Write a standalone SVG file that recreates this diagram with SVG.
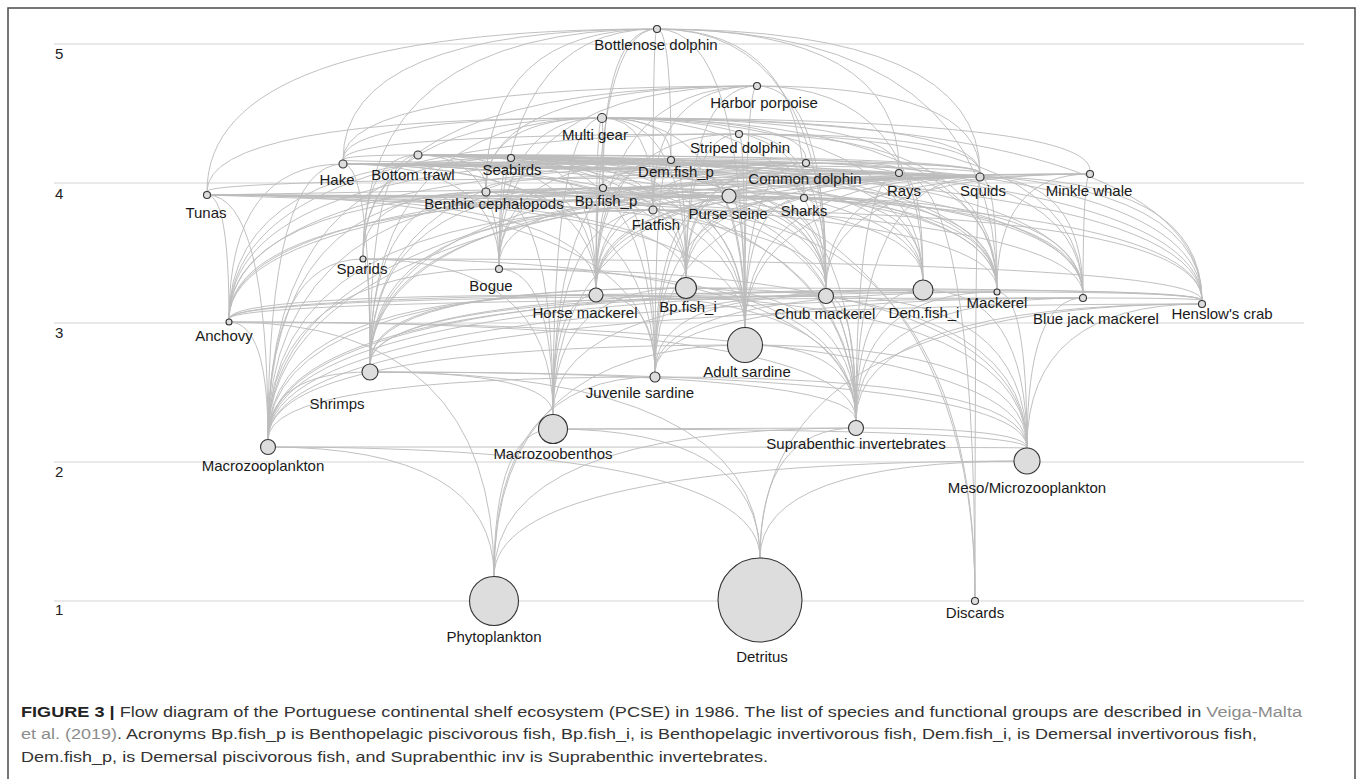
<svg xmlns="http://www.w3.org/2000/svg" width="1357" height="779" viewBox="0 0 1357 779">
<style>
.g{stroke:#e2e2e2;stroke-width:1.6}
.ax{font-family:"Liberation Sans",Arial,sans-serif;font-size:15px;fill:#222}
.e path{fill:none;stroke:#bdbdbd;stroke-width:0.95}
.n{fill:#dddddd;stroke:#333;stroke-width:1.1}
.t{font-family:"Liberation Sans",Arial,sans-serif;font-size:15px;fill:#1a1a1a;text-anchor:middle}
.cap{font-family:"Liberation Sans",Arial,sans-serif;font-size:15.5px;fill:#333}
.lk{fill:#8c8c8c}
</style>
<rect x="0" y="0" width="1357" height="779" fill="#fff"/>
<rect x="8" y="8" width="1347" height="790" fill="none" stroke="#4a4a4a" stroke-width="1.5"/>
<g id="grid">
<line class="g" x1="54" y1="44" x2="1304" y2="44"/>
<line class="g" x1="54" y1="183" x2="1304" y2="183"/>
<line class="g" x1="54" y1="323" x2="1304" y2="323"/>
<line class="g" x1="54" y1="462" x2="1304" y2="462"/>
<line class="g" x1="54" y1="601" x2="1304" y2="601"/>
<text class="ax" x="55" y="59">5</text>
<text class="ax" x="55" y="199">4</text>
<text class="ax" x="55" y="338">3</text>
<text class="ax" x="55" y="477">2</text>
<text class="ax" x="55" y="615">1</text>
</g>
<g id="connectors" class="e">
<path d="M494,576.5Q494,461 1027,461"/>
<path d="M760,558Q760,461 1027,461"/>
<path d="M494,576.5Q494,447 268,447"/>
<path d="M1027,448Q1027,447 268,447"/>
<path d="M760,558Q760,447 268,447"/>
<path d="M494,576.5Q494,428 856,428"/>
<path d="M760,558Q760,428 856,428"/>
<path d="M1027,448Q1027,428 856,428"/>
<path d="M494,576.5Q494,429 553,429"/>
<path d="M760,558Q760,429 553,429"/>
<path d="M1027,448Q1027,429 553,429"/>
<path d="M553,429L856,428"/>
<path d="M1027,448Q1027,372 370,372"/>
<path d="M268,439.5Q268,372 370,372"/>
<path d="M856,420.5Q856,372 370,372"/>
<path d="M553,414.5Q553,372 370,372"/>
<path d="M760,558Q760,372 370,372"/>
<path d="M494,576.5Q494,377 655,377"/>
<path d="M1027,448Q1027,377 655,377"/>
<path d="M268,439.5Q268,377 655,377"/>
<path d="M494,576.5Q494,345 745,345"/>
<path d="M1027,448Q1027,345 745,345"/>
<path d="M268,439.5Q268,345 745,345"/>
<path d="M856,420.5Q856,345 745,345"/>
<path d="M1027,448Q1027,322 229,322"/>
<path d="M268,439.5Q268,322 229,322"/>
<path d="M856,420.5Q856,322 229,322"/>
<path d="M494,576.5Q494,322 229,322"/>
<path d="M1027,448Q1027,304 1202,304"/>
<path d="M268,439.5Q268,304 1202,304"/>
<path d="M856,420.5Q856,304 1202,304"/>
<path d="M760,558Q760,304 1202,304"/>
<path d="M1027,448Q1027,295 596,295"/>
<path d="M268,439.5Q268,295 596,295"/>
<path d="M856,420.5Q856,295 596,295"/>
<path d="M370,364Q370,295 596,295"/>
<path d="M655,372Q655,295 596,295"/>
<path d="M229,319Q229,295 596,295"/>
<path d="M553,414.5Q553,295 596,295"/>
<path d="M1027,448Q1027,296 826,296"/>
<path d="M268,439.5Q268,296 826,296"/>
<path d="M856,420.5Q856,296 826,296"/>
<path d="M655,372Q655,296 826,296"/>
<path d="M229,319Q229,296 826,296"/>
<path d="M370,364Q370,296 826,296"/>
<path d="M1027,448Q1027,292 997,292"/>
<path d="M268,439.5Q268,292 997,292"/>
<path d="M856,420.5Q856,292 997,292"/>
<path d="M655,372Q655,292 997,292"/>
<path d="M229,319Q229,292 997,292"/>
<path d="M1202,300.5Q1202,292 997,292"/>
<path d="M1027,448Q1027,298 1083,298"/>
<path d="M268,439.5Q268,298 1083,298"/>
<path d="M856,420.5Q856,298 1083,298"/>
<path d="M655,372Q655,298 1083,298"/>
<path d="M229,319Q229,298 1083,298"/>
<path d="M1202,300.5Q1202,298 1083,298"/>
<path d="M1027,448Q1027,288 686,288"/>
<path d="M268,439.5Q268,288 686,288"/>
<path d="M856,420.5Q856,288 686,288"/>
<path d="M553,414.5Q553,288 686,288"/>
<path d="M370,364Q370,288 686,288"/>
<path d="M1202,300.5Q1202,288 686,288"/>
<path d="M553,414.5Q553,290 923,290"/>
<path d="M856,420.5Q856,290 923,290"/>
<path d="M370,364Q370,290 923,290"/>
<path d="M268,439.5Q268,290 923,290"/>
<path d="M1202,300.5Q1202,290 923,290"/>
<path d="M1027,448Q1027,290 923,290"/>
<path d="M1027,448Q1027,269 499,269"/>
<path d="M268,439.5Q268,269 499,269"/>
<path d="M856,420.5Q856,269 499,269"/>
<path d="M553,414.5Q553,269 499,269"/>
<path d="M553,414.5Q553,259 363,259"/>
<path d="M856,420.5Q856,259 363,259"/>
<path d="M370,364Q370,259 363,259"/>
<path d="M268,439.5Q268,259 363,259"/>
<path d="M1202,300.5Q1202,259 363,259"/>
<path d="M553,414.5Q553,210 653,210"/>
<path d="M856,420.5Q856,210 653,210"/>
<path d="M370,364Q370,210 653,210"/>
<path d="M1202,300.5Q1202,210 653,210"/>
<path d="M268,439.5Q268,210 653,210"/>
<path d="M975,597.5Q975,210 653,210"/>
<path d="M596,288Q596,188 603,188"/>
<path d="M655,372Q655,188 603,188"/>
<path d="M745,327.5Q745,188 603,188"/>
<path d="M229,319Q229,188 603,188"/>
<path d="M686,277.5Q686,188 603,188"/>
<path d="M826,288.5Q826,188 603,188"/>
<path d="M997,289Q997,188 603,188"/>
<path d="M1083,294.5Q1083,188 603,188"/>
<path d="M499,265.5Q499,188 603,188"/>
<path d="M268,439.5Q268,188 603,188"/>
<path d="M370,364Q370,188 603,188"/>
<path d="M856,420.5Q856,188 603,188"/>
<path d="M596,288Q596,160 671,160"/>
<path d="M655,372Q655,160 671,160"/>
<path d="M745,327.5Q745,160 671,160"/>
<path d="M229,319Q229,160 671,160"/>
<path d="M686,277.5Q686,160 671,160"/>
<path d="M923,280Q923,160 671,160"/>
<path d="M370,364Q370,160 671,160"/>
<path d="M553,414.5Q553,160 671,160"/>
<path d="M856,420.5Q856,160 671,160"/>
<path d="M1202,300.5Q1202,160 671,160"/>
<path d="M499,265.5Q499,160 671,160"/>
<path d="M653,206Q653,160 671,160"/>
<path d="M553,414.5Q553,192 486,192"/>
<path d="M370,364Q370,192 486,192"/>
<path d="M856,420.5Q856,192 486,192"/>
<path d="M1202,300.5Q1202,192 486,192"/>
<path d="M923,280Q923,192 486,192"/>
<path d="M653,206Q653,192 486,192"/>
<path d="M363,256Q363,192 486,192"/>
<path d="M268,439.5Q268,192 486,192"/>
<path d="M268,439.5Q268,177 980,177"/>
<path d="M856,420.5Q856,177 980,177"/>
<path d="M655,372Q655,177 980,177"/>
<path d="M745,327.5Q745,177 980,177"/>
<path d="M229,319Q229,177 980,177"/>
<path d="M596,288Q596,177 980,177"/>
<path d="M686,277.5Q686,177 980,177"/>
<path d="M826,288.5Q826,177 980,177"/>
<path d="M997,289Q997,177 980,177"/>
<path d="M1083,294.5Q1083,177 980,177"/>
<path d="M370,364Q370,177 980,177"/>
<path d="M1202,300.5Q1202,177 980,177"/>
<path d="M268,439.5Q268,164 343,164"/>
<path d="M856,420.5Q856,164 343,164"/>
<path d="M370,364Q370,164 343,164"/>
<path d="M655,372Q655,164 343,164"/>
<path d="M745,327.5Q745,164 343,164"/>
<path d="M229,319Q229,164 343,164"/>
<path d="M596,288Q596,164 343,164"/>
<path d="M686,277.5Q686,164 343,164"/>
<path d="M826,288.5Q826,164 343,164"/>
<path d="M923,280Q923,164 343,164"/>
<path d="M499,265.5Q499,164 343,164"/>
<path d="M980,173Q980,164 343,164"/>
<path d="M997,289Q997,164 343,164"/>
<path d="M1083,294.5Q1083,164 343,164"/>
<path d="M1202,300.5Q1202,164 343,164"/>
<path d="M553,414.5Q553,173 899,173"/>
<path d="M370,364Q370,173 899,173"/>
<path d="M856,420.5Q856,173 899,173"/>
<path d="M1202,300.5Q1202,173 899,173"/>
<path d="M923,280Q923,173 899,173"/>
<path d="M653,206Q653,173 899,173"/>
<path d="M486,188Q486,173 899,173"/>
<path d="M975,597.5Q975,173 899,173"/>
<path d="M596,288Q596,198 804,198"/>
<path d="M745,327.5Q745,198 804,198"/>
<path d="M655,372Q655,198 804,198"/>
<path d="M686,277.5Q686,198 804,198"/>
<path d="M923,280Q923,198 804,198"/>
<path d="M804,194.5Q804,177 980,177"/>
<path d="M804,194.5Q804,192 486,192"/>
<path d="M804,194.5Q804,164 343,164"/>
<path d="M826,288.5Q826,198 804,198"/>
<path d="M370,364Q370,198 804,198"/>
<path d="M997,289Q997,198 804,198"/>
<path d="M1083,294.5Q1083,198 804,198"/>
<path d="M745,327.5Q745,195 207,195"/>
<path d="M229,319Q229,195 207,195"/>
<path d="M596,288Q596,195 207,195"/>
<path d="M826,288.5Q826,195 207,195"/>
<path d="M997,289Q997,195 207,195"/>
<path d="M1083,294.5Q1083,195 207,195"/>
<path d="M207,191.5Q207,177 980,177"/>
<path d="M686,277.5Q686,195 207,195"/>
<path d="M655,372Q655,195 207,195"/>
<path d="M268,439.5Q268,195 207,195"/>
<path d="M745,327.5Q745,158 511,158"/>
<path d="M655,372Q655,158 511,158"/>
<path d="M229,319Q229,158 511,158"/>
<path d="M596,288Q596,158 511,158"/>
<path d="M826,288.5Q826,158 511,158"/>
<path d="M975,597.5Q975,158 511,158"/>
<path d="M499,265.5Q499,158 511,158"/>
<path d="M980,173Q980,158 511,158"/>
<path d="M268,439.5Q268,158 511,158"/>
<path d="M997,289Q997,158 511,158"/>
<path d="M745,327.5Q745,163 806,163"/>
<path d="M655,372Q655,163 806,163"/>
<path d="M229,319Q229,163 806,163"/>
<path d="M596,288Q596,163 806,163"/>
<path d="M826,288.5Q826,163 806,163"/>
<path d="M997,289Q997,163 806,163"/>
<path d="M1083,294.5Q1083,163 806,163"/>
<path d="M980,173Q980,163 806,163"/>
<path d="M343,160Q343,163 806,163"/>
<path d="M686,277.5Q686,163 806,163"/>
<path d="M603,184.5Q603,163 806,163"/>
<path d="M745,327.5Q745,134 739,134"/>
<path d="M229,319Q229,134 739,134"/>
<path d="M596,288Q596,134 739,134"/>
<path d="M980,173Q980,134 739,134"/>
<path d="M826,288.5Q826,134 739,134"/>
<path d="M997,289Q997,134 739,134"/>
<path d="M1083,294.5Q1083,134 739,134"/>
<path d="M686,277.5Q686,134 739,134"/>
<path d="M343,160Q343,134 739,134"/>
<path d="M745,327.5Q745,86 757,86"/>
<path d="M343,160Q343,86 757,86"/>
<path d="M596,288Q596,86 757,86"/>
<path d="M686,277.5Q686,86 757,86"/>
<path d="M923,280Q923,86 757,86"/>
<path d="M980,173Q980,86 757,86"/>
<path d="M486,188Q486,86 757,86"/>
<path d="M653,206Q653,86 757,86"/>
<path d="M826,288.5Q826,86 757,86"/>
<path d="M363,256Q363,86 757,86"/>
<path d="M499,265.5Q499,86 757,86"/>
<path d="M343,160Q343,29 657,29"/>
<path d="M596,288Q596,29 657,29"/>
<path d="M745,327.5Q745,29 657,29"/>
<path d="M980,173Q980,29 657,29"/>
<path d="M486,188Q486,29 657,29"/>
<path d="M826,288.5Q826,29 657,29"/>
<path d="M997,289Q997,29 657,29"/>
<path d="M671,156.5Q671,29 657,29"/>
<path d="M603,184.5Q603,29 657,29"/>
<path d="M653,206Q653,29 657,29"/>
<path d="M363,256Q363,29 657,29"/>
<path d="M207,191.5Q207,29 657,29"/>
<path d="M804,194.5Q804,29 657,29"/>
<path d="M899,169.5Q899,29 657,29"/>
<path d="M499,265.5Q499,29 657,29"/>
<path d="M745,327.5Q745,174 1090,174"/>
<path d="M229,319Q229,174 1090,174"/>
<path d="M596,288Q596,174 1090,174"/>
<path d="M997,289Q997,174 1090,174"/>
<path d="M826,288.5Q826,174 1090,174"/>
<path d="M1083,294.5Q1083,174 1090,174"/>
<path d="M268,439.5Q268,174 1090,174"/>
<path d="M343,160Q343,118 602,118"/>
<path d="M486,188Q486,118 602,118"/>
<path d="M980,173Q980,118 602,118"/>
<path d="M653,206Q653,118 602,118"/>
<path d="M363,256Q363,118 602,118"/>
<path d="M499,265.5Q499,118 602,118"/>
<path d="M671,156.5Q671,118 602,118"/>
<path d="M923,280Q923,118 602,118"/>
<path d="M603,184.5Q603,118 602,118"/>
<path d="M686,277.5Q686,118 602,118"/>
<path d="M899,169.5Q899,118 602,118"/>
<path d="M804,194.5Q804,118 602,118"/>
<path d="M596,288Q596,118 602,118"/>
<path d="M826,288.5Q826,118 602,118"/>
<path d="M997,289Q997,118 602,118"/>
<path d="M745,327.5Q745,118 602,118"/>
<path d="M207,191.5Q207,118 602,118"/>
<path d="M370,364Q370,118 602,118"/>
<path d="M1202,300.5Q1202,118 602,118"/>
<path d="M553,414.5Q553,118 602,118"/>
<path d="M1090,170.5Q1090,118 602,118"/>
<path d="M806,159.5Q806,118 602,118"/>
<path d="M343,160Q343,155 418,155"/>
<path d="M596,288Q596,155 418,155"/>
<path d="M486,188Q486,155 418,155"/>
<path d="M980,173Q980,155 418,155"/>
<path d="M653,206Q653,155 418,155"/>
<path d="M671,156.5Q671,155 418,155"/>
<path d="M923,280Q923,155 418,155"/>
<path d="M686,277.5Q686,155 418,155"/>
<path d="M603,184.5Q603,155 418,155"/>
<path d="M370,364Q370,155 418,155"/>
<path d="M826,288.5Q826,155 418,155"/>
<path d="M997,289Q997,155 418,155"/>
<path d="M1083,294.5Q1083,155 418,155"/>
<path d="M899,169.5Q899,155 418,155"/>
<path d="M804,194.5Q804,155 418,155"/>
<path d="M1202,300.5Q1202,155 418,155"/>
<path d="M745,327.5Q745,155 418,155"/>
<path d="M499,265.5Q499,155 418,155"/>
<path d="M363,256Q363,155 418,155"/>
<path d="M745,327.5Q745,196 729,196"/>
<path d="M655,372Q655,196 729,196"/>
<path d="M229,319Q229,196 729,196"/>
<path d="M596,288Q596,196 729,196"/>
<path d="M826,288.5Q826,196 729,196"/>
<path d="M997,289Q997,196 729,196"/>
<path d="M1083,294.5Q1083,196 729,196"/>
<path d="M499,265.5Q499,196 729,196"/>
<path d="M207,195L729,196"/>
<path d="M686,277.5Q686,196 729,196"/>
<path d="M975,597.5Q975,177 980,177"/>
<path d="M343,164L980,177"/>
<path d="M343,164L899,173"/>
<path d="M418,155L980,177"/>
<path d="M418,155L899,173"/>
<path d="M343,164L806,163"/>
<path d="M418,155L806,163"/>
<path d="M511,158L980,177"/>
<path d="M511,158L899,173"/>
<path d="M207,195L804,198"/>
<path d="M207,195L653,210"/>
<path d="M207,195L603,188"/>
<path d="M486,192L980,177"/>
<path d="M486,192L729,196"/>
<path d="M603,188L980,177"/>
<path d="M671,160L980,177"/>
<path d="M671,160L343,164"/>
</g>
<g id="node-bottlenose-dolphin"><circle class="n" cx="657" cy="29" r="3.5"/><text class="t" x="656" y="50">Bottlenose dolphin</text></g>
<g id="node-harbor-porpoise"><circle class="n" cx="757" cy="86" r="3.5"/><text class="t" x="764" y="108">Harbor porpoise</text></g>
<g id="node-multi-gear"><circle class="n" cx="602" cy="118" r="4.5"/><text class="t" x="595" y="140">Multi gear</text></g>
<g id="node-striped-dolphin"><circle class="n" cx="739" cy="134" r="3.5"/><text class="t" x="740" y="153">Striped dolphin</text></g>
<g id="node-seabirds"><circle class="n" cx="511" cy="158" r="3.5"/><text class="t" x="512" y="175">Seabirds</text></g>
<g id="node-dem-fish-p"><circle class="n" cx="671" cy="160" r="3.5"/><text class="t" x="676" y="177">Dem.fish_p</text></g>
<g id="node-hake"><circle class="n" cx="343" cy="164" r="4"/><text class="t" x="337" y="185">Hake</text></g>
<g id="node-bottom-trawl"><circle class="n" cx="418" cy="155" r="4"/><text class="t" x="413" y="180">Bottom trawl</text></g>
<g id="node-common-dolphin"><circle class="n" cx="806" cy="163" r="3.5"/><text class="t" x="805" y="184">Common dolphin</text></g>
<g id="node-rays"><circle class="n" cx="899" cy="173" r="3.5"/><text class="t" x="904" y="196">Rays</text></g>
<g id="node-squids"><circle class="n" cx="980" cy="177" r="4"/><text class="t" x="983" y="196">Squids</text></g>
<g id="node-minkle-whale"><circle class="n" cx="1090" cy="174" r="3.5"/><text class="t" x="1089" y="196">Minkle whale</text></g>
<g id="node-tunas"><circle class="n" cx="207" cy="195" r="3.5"/><text class="t" x="206" y="218">Tunas</text></g>
<g id="node-benthic-cephalopods"><circle class="n" cx="486" cy="192" r="4"/><text class="t" x="494" y="209">Benthic cephalopods</text></g>
<g id="node-bp-fish-p"><circle class="n" cx="603" cy="188" r="3.5"/><text class="t" x="606" y="206">Bp.fish_p</text></g>
<g id="node-flatfish"><circle class="n" cx="653" cy="210" r="4"/><text class="t" x="656" y="230">Flatfish</text></g>
<g id="node-purse-seine"><circle class="n" cx="729" cy="196" r="7"/><text class="t" x="728" y="219">Purse seine</text></g>
<g id="node-sharks"><circle class="n" cx="804" cy="198" r="3.5"/><text class="t" x="804" y="216">Sharks</text></g>
<g id="node-sparids"><circle class="n" cx="363" cy="259" r="3"/><text class="t" x="362" y="274">Sparids</text></g>
<g id="node-bogue"><circle class="n" cx="499" cy="269" r="3.5"/><text class="t" x="491" y="291">Bogue</text></g>
<g id="node-anchovy"><circle class="n" cx="229" cy="322" r="3"/><text class="t" x="224" y="341">Anchovy</text></g>
<g id="node-horse-mackerel"><circle class="n" cx="596" cy="295" r="7"/><text class="t" x="585" y="318">Horse mackerel</text></g>
<g id="node-bp-fish-i"><circle class="n" cx="686" cy="288" r="10.5"/><text class="t" x="688" y="312">Bp.fish_i</text></g>
<g id="node-chub-mackerel"><circle class="n" cx="826" cy="296" r="7.5"/><text class="t" x="825" y="319">Chub mackerel</text></g>
<g id="node-dem-fish-i"><circle class="n" cx="923" cy="290" r="10"/><text class="t" x="924" y="318">Dem.fish_i</text></g>
<g id="node-mackerel"><circle class="n" cx="997" cy="292" r="3"/><text class="t" x="997" y="308">Mackerel</text></g>
<g id="node-blue-jack-mackerel"><circle class="n" cx="1083" cy="298" r="3.5"/><text class="t" x="1096" y="324">Blue jack mackerel</text></g>
<g id="node-henslows-crab"><circle class="n" cx="1202" cy="304" r="3.5"/><text class="t" x="1222" y="319">Henslow's crab</text></g>
<g id="node-adult-sardine"><circle class="n" cx="745" cy="345" r="17.5"/><text class="t" x="747" y="377">Adult sardine</text></g>
<g id="node-juvenile-sardine"><circle class="n" cx="655" cy="377" r="5"/><text class="t" x="640" y="398">Juvenile sardine</text></g>
<g id="node-shrimps"><circle class="n" cx="370" cy="372" r="8"/><text class="t" x="337" y="409">Shrimps</text></g>
<g id="node-macrozooplankton"><circle class="n" cx="268" cy="447" r="7.5"/><text class="t" x="263" y="471">Macrozooplankton</text></g>
<g id="node-macrozoobenthos"><circle class="n" cx="553" cy="429" r="14.5"/><text class="t" x="553" y="459">Macrozoobenthos</text></g>
<g id="node-suprabenthic-invertebrates"><circle class="n" cx="856" cy="428" r="7.5"/><text class="t" x="856" y="449">Suprabenthic invertebrates</text></g>
<g id="node-meso-microzooplankton"><circle class="n" cx="1027" cy="461" r="13"/><text class="t" x="1027" y="493">Meso/Microzooplankton</text></g>
<g id="node-phytoplankton"><circle class="n" cx="494" cy="601" r="24.5"/><text class="t" x="494" y="642">Phytoplankton</text></g>
<g id="node-detritus"><circle class="n" cx="760" cy="600" r="42"/><text class="t" x="762" y="662">Detritus</text></g>
<g id="node-discards"><circle class="n" cx="975" cy="601" r="3.5"/><text class="t" x="975" y="618">Discards</text></g>
<g id="caption">
<text class="cap" x="21" y="716.5" textLength="1281" lengthAdjust="spacingAndGlyphs"><tspan font-weight="bold" fill="#222">FIGURE 3 |</tspan> Flow diagram of the Portuguese continental shelf ecosystem (PCSE) in 1986. The list of species and functional groups are described in <tspan class="lk">Veiga-Malta</tspan></text>
<text class="cap" x="21" y="739.3" textLength="1236" lengthAdjust="spacingAndGlyphs"><tspan class="lk">et al. (2019)</tspan>. Acronyms Bp.fish_p is Benthopelagic piscivorous fish, Bp.fish_i, is Benthopelagic invertivorous fish, Dem.fish_i, is Demersal invertivorous fish,</text>
<text class="cap" x="21" y="762" textLength="747" lengthAdjust="spacingAndGlyphs">Dem.fish_p, is Demersal piscivorous fish, and Suprabenthic inv is Suprabenthic invertebrates.</text>
</g>
</svg>
